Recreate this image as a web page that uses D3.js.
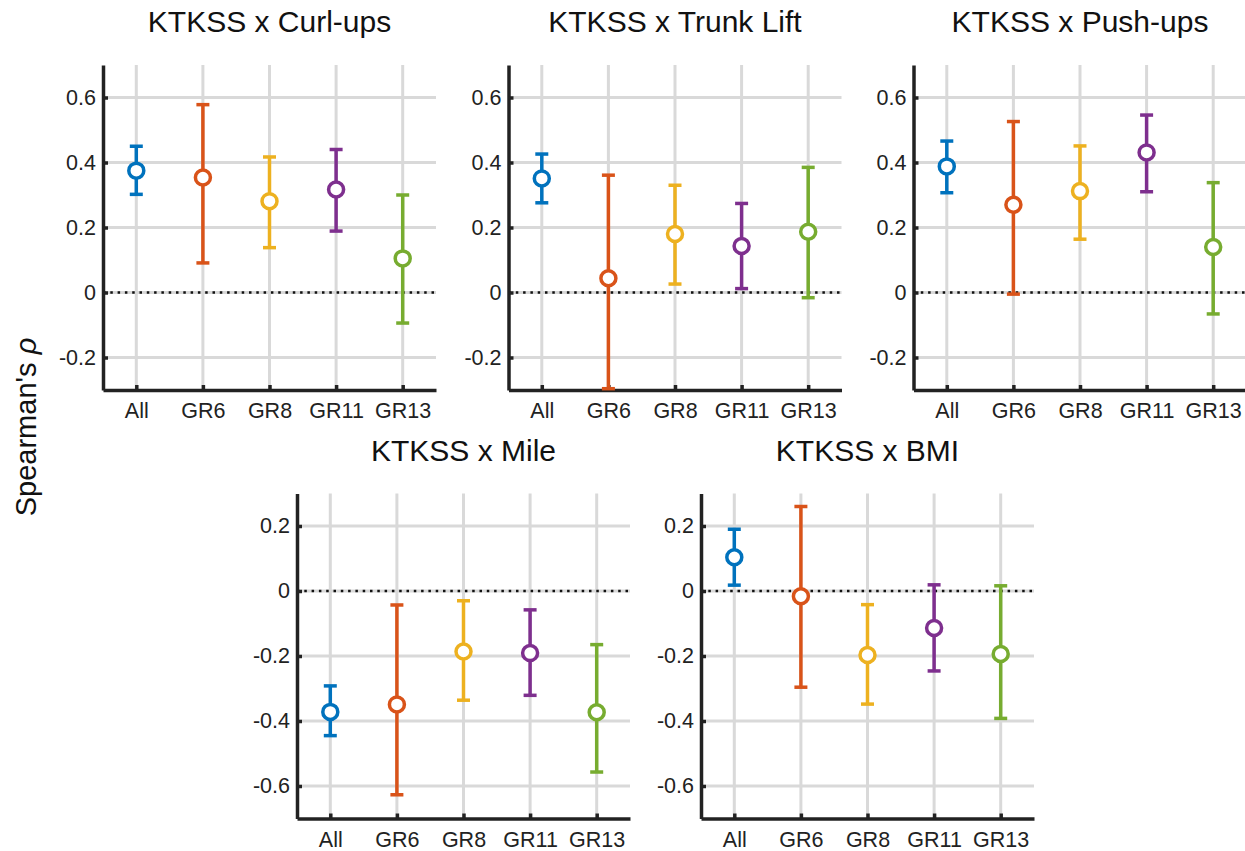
<!DOCTYPE html>
<html>
<head>
<meta charset="utf-8">
<script src="https://cdn.jsdelivr.net/npm/d3@7"></script>
<style>
  body { margin: 0; background: #fff; }
  text { font-family: "Liberation Sans", Arial, sans-serif; }
</style>
</head>
<body>
<script>
// categories + colours
var groups = ["All", "GR6", "GR8", "GR11", "GR13"];
var colors = ["#0072BD", "#D95319", "#EDB120", "#7E2F8E", "#77AC30"];

var titles = ["KTKSS x Curl-ups", "KTKSS x Trunk Lift", "KTKSS x Push-ups", "KTKSS x Mile", "KTKSS x BMI"];

// Spearman's rho per group, and confidence bounds
var rhoCurl  = [0.375, 0.354, 0.281, 0.317, 0.105];
var loCurl   = [0.302, 0.091, 0.138, 0.189, -0.094];
var hiCurl   = [0.450, 0.578, 0.417, 0.440, 0.300];

var rhoTrunk = [0.351, 0.044, 0.180, 0.143, 0.187];
var loTrunk  = [0.276, -0.296, 0.026, 0.012, -0.016];
var hiTrunk  = [0.426, 0.361, 0.330, 0.274, 0.385];

var rhoPush  = [0.388, 0.270, 0.312, 0.431, 0.140];
var loPush   = [0.307, -0.005, 0.164, 0.310, -0.066];
var hiPush   = [0.466, 0.526, 0.451, 0.546, 0.338];

var rhoMile  = [-0.372, -0.349, -0.186, -0.191, -0.373];
var loMile   = [-0.445, -0.627, -0.336, -0.321, -0.557];
var hiMile   = [-0.292, -0.043, -0.030, -0.058, -0.165];

var rhoBmi   = [0.104, -0.016, -0.197, -0.114, -0.194];
var loBmi    = [0.018, -0.296, -0.348, -0.246, -0.392];
var hiBmi    = [0.190, 0.260, -0.042, 0.019, 0.016];

// y ranges and ticks
var yTop    = [-0.3, 0.7];
var ticksTop = [-0.2, 0, 0.2, 0.4, 0.6];
var yBottom = [-0.7, 0.3];
var ticksBottom = [-0.6, -0.4, -0.2, 0, 0.2];

var width = 1245;
var height = 851;
var pw = 333, ph = 325;

var svg = d3.select("body").append("svg")
  .attr("width", width)
  .attr("height", height);

var panels = [
  {title: titles[0], rho: rhoCurl,  lo: loCurl,  hi: hiCurl,  dom: yTop,    ticks: ticksTop,    x: 103,   y: 65},
  {title: titles[1], rho: rhoTrunk, lo: loTrunk, hi: hiTrunk, dom: yTop,    ticks: ticksTop,    x: 508.5, y: 65},
  {title: titles[2], rho: rhoPush,  lo: loPush,  hi: hiPush,  dom: yTop,    ticks: ticksTop,    x: 913.5, y: 65},
  {title: titles[3], rho: rhoMile,  lo: loMile,  hi: hiMile,  dom: yBottom, ticks: ticksBottom, x: 297,   y: 493.5},
  {title: titles[4], rho: rhoBmi,   lo: loBmi,   hi: hiBmi,   dom: yBottom, ticks: ticksBottom, x: 701,   y: 493.5}
];

var fmt = function(d) { return String(+d.toFixed(1)); };

panels.forEach(function(p) {
  var g = svg.append("g").attr("transform", "translate(" + p.x + "," + p.y + ")");
  var x = d3.scalePoint().domain(groups).range([0, pw]).padding(0.5);
  var y = d3.scaleLinear().domain(p.dom).range([ph, 0]);

  // grid
  g.append("g").selectAll("line.h").data(p.ticks).enter().append("line")
    .attr("x1", 0).attr("x2", pw)
    .attr("y1", function(d) { return y(d); }).attr("y2", function(d) { return y(d); })
    .attr("stroke", "#d9d9d9").attr("stroke-width", 3);
  g.append("g").selectAll("line.v").data(groups).enter().append("line")
    .attr("x1", function(d) { return x(d); }).attr("x2", function(d) { return x(d); })
    .attr("y1", 0).attr("y2", ph)
    .attr("stroke", "#d9d9d9").attr("stroke-width", 3);

  // zero reference
  g.append("line")
    .attr("x1", 0).attr("x2", pw).attr("y1", y(0)).attr("y2", y(0))
    .attr("stroke", "#111").attr("stroke-width", 2.5)
    .attr("stroke-dasharray", "2.5,4.8");

  // axes
  var ya = g.append("g").call(d3.axisLeft(y).tickValues(p.ticks).tickFormat(fmt)
    .tickSizeInner(-5).tickSizeOuter(0).tickPadding(7));
  var xa = g.append("g").attr("transform", "translate(0," + ph + ")")
    .call(d3.axisBottom(x).tickSizeInner(-5).tickSizeOuter(0).tickPadding(13));
  [ya, xa].forEach(function(a) {
    a.select(".domain").attr("stroke", "#222").attr("stroke-width", 3.5);
    a.selectAll(".tick line").attr("stroke", "#222").attr("stroke-width", 3.5);
    a.selectAll(".tick text").attr("fill", "#222").attr("font-size", 21.5)
      .style("font-family", "'Liberation Sans', Arial, sans-serif");
  });

  // error bars
  var bars = g.append("g").selectAll("g").data(groups).enter().append("g");
  bars.append("line")
    .attr("x1", function(d) { return x(d); }).attr("x2", function(d) { return x(d); })
    .attr("y1", function(d, i) { return y(p.lo[i]); })
    .attr("y2", function(d, i) { return y(p.hi[i]); })
    .attr("stroke", function(d, i) { return colors[i]; }).attr("stroke-width", 3.5);
  bars.append("line")
    .attr("x1", function(d) { return x(d) - 6.5; }).attr("x2", function(d) { return x(d) + 6.5; })
    .attr("y1", function(d, i) { return y(p.lo[i]); })
    .attr("y2", function(d, i) { return y(p.lo[i]); })
    .attr("stroke", function(d, i) { return colors[i]; }).attr("stroke-width", 3.5);
  bars.append("line")
    .attr("x1", function(d) { return x(d) - 6.5; }).attr("x2", function(d) { return x(d) + 6.5; })
    .attr("y1", function(d, i) { return y(p.hi[i]); })
    .attr("y2", function(d, i) { return y(p.hi[i]); })
    .attr("stroke", function(d, i) { return colors[i]; }).attr("stroke-width", 3.5);
  bars.append("circle")
    .attr("cx", function(d) { return x(d); })
    .attr("cy", function(d, i) { return y(p.rho[i]); })
    .attr("r", 7.5)
    .attr("fill", "#fff")
    .attr("stroke", function(d, i) { return colors[i]; }).attr("stroke-width", 3.5);

  // title
  g.append("text")
    .attr("x", pw / 2).attr("y", -33)
    .attr("text-anchor", "middle")
    .attr("font-size", 30)
    .attr("fill", "#111")
    .text(p.title);
});

// shared y label
svg.append("text")
  .attr("transform", "translate(36,427) rotate(-90)")
  .attr("text-anchor", "middle")
  .attr("font-size", 29)
  .attr("fill", "#111")
  .text("Spearman's ")
  .append("tspan").attr("font-style", "italic").text("ρ");
</script>
</body>
</html>
